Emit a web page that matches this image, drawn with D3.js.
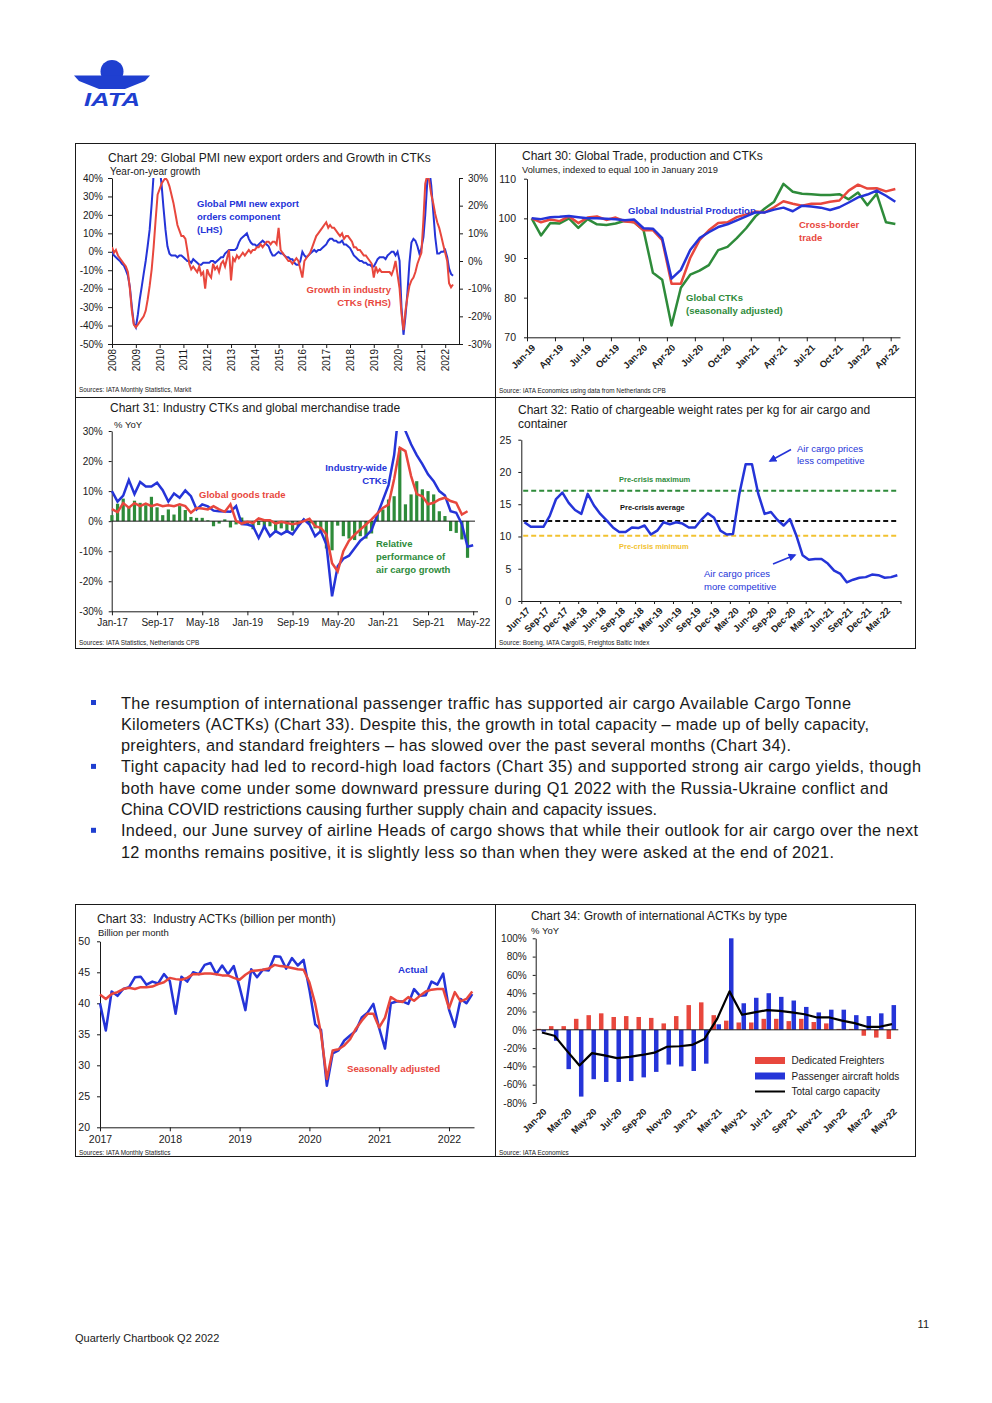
<!DOCTYPE html>
<html>
<head>
<meta charset="utf-8">
<script src="https://cdn.jsdelivr.net/npm/d3@7"></script>
<style>
    body { margin: 0; background: #fff; }
    svg text { font-family: 'Liberation Sans', Arial, sans-serif; white-space: pre; }
</style>
</head>
<body>
<svg id="page" width="992" height="1403"></svg>
<script>
// ---------- data: chart 29 (monthly, Jan 2008 - May 2022)
const pmiExportOrders = [
    0, -2, -3, -4, -5, -6.5, -7.5, -10, -13, -19, -30, -39,
    -41, -34, -26, -19, -12, -5, 3, 12, 26, 42, 50, 50,
    46, 36, 24, 12, 3, -1, -2, -2, -2, -3, -2, -2,
    -3, -4, -5, -5, -6, -4, -5, -6, -7, -7, -6, -6,
    -6, -6, -5, -5, -6, -5, -4, -3, -3, -1, 0, 1,
    1, 1, 1, 2, 5, 7, 8, 9, 10, 7, 5, 4,
    4, 3, 4, 5, 6, 5, 4, 3, 0, -2, -2, -1,
    0, -1, -1, -2, -3, -3, -4, -4, -6, -7, -7, -5,
    0, -2, -3, -2, -1, 0, 1, 0, 1, 1, 2, 3,
    4, 6, 7, 7, 6, 6, 5, 5, 6, 4, 4, 3,
    2, 0, -2, -3, -4, -5, -5, -6, -6, -7, -7, -8,
    -8, -6, -4, -3, -3, -3, -4, -2, -1, 0, 0, -2,
    0, -5, -30, -45, -35, -22, -6, 5, 7, 6, 3, -1,
    2, 8, 20, 38, 45, 36, 22, 8, -1, -1, 0, 0,
    1, -3, -9, -12, -13
]
const ctkGrowth = [
    5, 3, 4, 2, 1, 0, -1, -2, -4, -10, -18, -23,
    -24, -23, -22, -21, -20, -18, -14, -9, -3, 5, 15, 24,
    26, 28, 29, 30, 29, 27, 24, 21, 17, 13, 11, 9,
    9, 8, 4, -1, -3, -2, -3, -4, -2, -5, -4, -10,
    -3, -5, -6, -1, -3, -2, -4, -1, 0, -2, 1, 4,
    -7, 1, 0, 2, 1, 2, 3, 2, 3, 4, 3, 4,
    4, 5, 5, 6, 5, 6, 7, 7, 6, 7, 7, 6,
    12, 4, 3, 2, 1, 0, 0, -1, 0, 1, 0, -3,
    -6, 0, 1, 2, 3, 5, 7, 9, 10, 11, 12, 13,
    14, 12, 13, 12, 12, 11, 10, 9, 10, 8, 9, 9,
    8, 7, 5, 5, 4, 4, 3, 2, 2, 1, 0, -1,
    -6, -2, -4, -3, -4, -4, -4, -4, -4, -5, -3, 0,
    -5, -10, -19, -25, -18, -13, -9, -7, -6, -4, -1, 1,
    3, 15, 28, 31, 29, 24, 21, 17, 14, 12, 9, 6,
    3, 0, -8, -9.5, -8.5
]

// ---------- data: chart 30 (monthly, Jan-19 - Apr-22)
const industrialProduction = [100, 99.8, 100.3, 100.4, 100.6, 100.3, 100, 100, 99.9, 99.8, 99.5, 99.7,
    97.5, 97.4, 95, 84.8, 87, 92, 95, 96.5, 97.8, 98.5, 99.5, 100.5,
    101.5, 101.5, 102.2, 102.7, 101.8, 103.2, 103, 102.7, 102.1, 102.8, 104, 105.3,
    106, 107, 105.7, 104.2]
const crossBorderTrade = [100, 99, 99.7, 99.3, 100.5, 98.8, 100.2, 100.5, 99.6, 100.2, 99.2, 99,
    97, 97, 94.5, 83.5, 83.5, 90, 94.5, 97, 98.8, 99, 100.3, 101,
    101.7, 101.5, 102.8, 104.3, 103.7, 103.2, 103.7, 103.7, 104.2, 104.5, 107, 108.5,
    107.5, 107.6, 106.8, 107.4]
const globalCtksSa = [100, 95.7, 98.8, 98.7, 100, 97.6, 99.8, 98.5, 98.3, 98.7, 99.4, 99,
    97, 86.3, 84.5, 73, 82.5, 85.8, 86.8, 88.2, 92, 92.8, 95, 97.5,
    100.5, 102.5, 104.2, 108.7, 106.7, 106.2, 106.1, 105.9, 105.9, 106.1, 104.8, 106.5,
    103.3, 106.2, 99, 98.6]
const c30Ticks = ['Jan-19', 'Apr-19', 'Jul-19', 'Oct-19', 'Jan-20', 'Apr-20', 'Jul-20', 'Oct-20',
    'Jan-21', 'Apr-21', 'Jul-21', 'Oct-21', 'Jan-22', 'Apr-22']

// ---------- data: chart 31 (monthly, Jan-17 - May-22)
const industryCtks = [10, 6.5, 8.5, 13.7, 9, 13, 11.5, 11.5, 12.8, 10.3, 6.5, 9.2,
    7.8, 10.2, 8.3, 3.9, 5.6, 4.9, 3.5, 3.3, 3.2, 3.1, 5, -1,
    -1.1, -1.7, -5.6, -1.7, -5, -3.3, -4.4, -3.3, -4.4, -1.7, 0.6, -1.1,
    -5, -3.3, -7.8, -25, -15, -12.5, -11.5, -9, -6.5, -5, -3, 2,
    7, 12, 22, 40, 30, 25.6, 22, 19, 15.6, 13.3, 10, 8.5,
    3.3, 2.8, -1, -8.5, -8]
const goodsTrade = [4, 3, 6, 4.5, 6, 5, 5.8, 5, 5.6, 5, 5.3, 5,
    5.6, 5, 2.8, 4.4, 4.2, 3.9, 5, 3.9, 3.1, 5.6, 0, -0.8,
    -0.2, -0.6, 0.9, 0.3, 0.3, -0.8, -0.2, -0.6, -1, -0.6, 0, 0.8,
    -1.7, -2.2, -4.4, -14, -16.7, -10, -6.5, -4.5, -2.8, -1.1, 0.6, 2.5,
    4.4, 5.5, 14, 24.4, 23.3, 15, 9, 8.3, 5.6, 6.1, 7.2, 7.8,
    6.7, 6.1, 2.2, 3.3]
const relativePerformance = [2, 5.8, 7.5, 4.8, 6.8, 6.1, 5.3, 8.1, 4.6, 2, 3.9, 2.2,
    5, 3.7, 1.4, 1.1, 1.1, 0.3, -1.7, -0.8, 0.6, -2.1, -1.1, 1.2,
    -1.3, -2.7, -1.3, -2.2, -1.7, -3.2, -2.4, -3.9, -3.2, -1.7, 0.7, -0.8,
    -2.4, -3.6, -9.1, -9.7, -1.5, -5, -5.8, -6.3, -5, -5.8, -4.1, 2.2,
    3.9, 7.2, 8.3, 24.4, 5.6, 8.9, 13.3, 10.6, 10, 8.9, 3.3, 1.7,
    -3.3, -3.9, -6.1, -12.2]
const c31Ticks = ['Jan-17', 'Sep-17', 'May-18', 'Jan-19', 'Sep-19', 'May-20', 'Jan-21', 'Sep-21', 'May-22']

// ---------- data: chart 32 (monthly, Jun-17 - May-22)
const rateRatio = [12.2, 11.5, 11.5, 11.5, 13.2, 15.8, 16.8, 15.2, 14.1, 13.5,
    16.6, 14.8, 13.5, 12.5, 11.4, 10.7, 10.7, 11.4, 11.3, 11.7,
    10.3, 10.9, 12.2, 11.9, 12.2, 12, 11.4, 11.4, 12.6, 13.6,
    12.9, 10.9, 10.3, 10.4, 16.6, 21.2, 21.2, 16.6, 13.5, 13.8,
    12.6, 11.7, 12.7, 10.2, 7.1, 6.4, 6.5, 6.5, 5.8, 4.7,
    4.2, 2.9, 3.3, 3.6, 3.7, 4.1, 4, 3.6, 3.7, 4]
const preCrisisMax = 17.1
const preCrisisAvg = 12.4
const preCrisisMin = 10.1
const c32Ticks = ['Jun-17', 'Sep-17', 'Dec-17', 'Mar-18', 'Jun-18', 'Sep-18', 'Dec-18', 'Mar-19', 'Jun-19', 'Sep-19',
    'Dec-19', 'Mar-20', 'Jun-20', 'Sep-20', 'Dec-20', 'Mar-21', 'Jun-21', 'Sep-21', 'Dec-21', 'Mar-22']

// ---------- data: chart 33 (monthly, Jan 2017 - May 2022)
const actksActual = [40, 35.6, 41.9, 41.2, 42.3, 42.6, 44.2, 44.3, 43, 43.5, 43.2, 44.7,
    43.6, 38.3, 44.3, 43.5, 45, 44.7, 46.2, 46.5, 44.7, 46.1, 44.7, 46,
    42.6, 38.9, 45.5, 44.2, 45.4, 45.3, 47.6, 47.5, 45.6, 47.3, 46.1, 47,
    42.2, 36.6, 35.7, 26.7, 31.9, 32.4, 34, 34.8, 35.6, 37.7, 38.5, 39.9,
    36, 32.7, 40, 40.3, 40.3, 39.9, 42.3, 41.2, 41.3, 43.5, 43, 44.8,
    39, 36.2, 40.7, 40, 41.5]
const actksSa = [41.4, 40.7, 41.5, 41.8, 42.3, 42.5, 42.3, 42.6, 42.6, 42.7, 43.1, 43.4,
    44.1, 43.9, 43.8, 44.1, 44.7, 44.7, 44.8, 44.8, 44.7, 44.5, 44.5, 44.1,
    43.8, 44.6, 45.2, 45.3, 45.4, 45.6, 46.2, 46, 45.9, 45.7, 45.5, 45.4,
    43.4, 39.9, 35.1, 27.8, 32.4, 32.6, 33.2, 34.2, 35.9, 37.2, 38.3, 38.3,
    36.1, 37.7, 41, 40.4, 40.2, 41, 40.4, 41.2, 41.9, 42.2, 42.3, 42.3,
    39.2, 41.8, 40.3, 40.7, 41.9]
const c33Years = ['2017', '2018', '2019', '2020', '2021', '2022']

// ---------- data: chart 34 (monthly, Jan-20 - May-22)
const c34Months = ['Jan-20', 'Feb-20', 'Mar-20', 'Apr-20', 'May-20', 'Jun-20', 'Jul-20', 'Aug-20', 'Sep-20', 'Oct-20',
    'Nov-20', 'Dec-20', 'Jan-21', 'Feb-21', 'Mar-21', 'Apr-21', 'May-21', 'Jun-21', 'Jul-21', 'Aug-21',
    'Sep-21', 'Oct-21', 'Nov-21', 'Dec-21', 'Jan-22', 'Feb-22', 'Mar-22', 'Apr-22', 'May-22']
const dedicatedFreighters = [1, 4, 4, 12, 16, 18, 14, 15, 14, 13, 7, 15, 27, 30, 16, 10, 8, 8, 12, 12,
    9.5, 12, 8.5, 7, 1, 1, -6.5, -8.5, -10]
const passengerHolds = [-2, -12, -43, -73, -54, -57, -57, -56, -52, -46, -38, -40, -45, -37, 6, 100, 29, 35, 40, 36,
    32, 25, 19, 22, 22, 16, 15, 18, 27]
const totalCapacity = [-3, -6.5, -23, -39, -25.5, -28, -31, -29.5, -27.5, -25, -18.5, -18, -16.5, -10, 11.6, 42, 16.4, 19, 21.5, 20.7,
    19, 17, 13.5, 13.5, 10, 7.3, 3.3, 3.3, 6.2]

// ---------- body text
const bodyLines = [
    'The resumption of international passenger traffic has supported air cargo Available Cargo Tonne',
    'Kilometers (ACTKs) (Chart 33). Despite this, the growth in total capacity \u2013 made up of belly capacity,',
    'preighters, and standard freighters \u2013 has slowed over the past several months (Chart 34).',
    'Tight capacity had led to record-high load factors (Chart 35) and supported strong air cargo yields, though',
    'both have come under some downward pressure during Q1 2022 with the Russia-Ukraine conflict and',
    'China COVID restrictions causing further supply chain and capacity issues.',
    'Indeed, our June survey of airline Heads of cargo shows that while their outlook for air cargo over the next',
    '12 months remains positive, it is slightly less so than when they were asked at the end of 2021.'
]
const bodyWidths = [730, 748, 670, 800, 767, 536, 797, 713]

const BLUE = '#2534d8'
const RED = '#e8473d'
const GREEN = '#2e8b3a'
const YELLOW = '#f2c230'
const INK = '#1a1a1a'
const LOGO = '#1f3fd0'
const SRC = 6.4

const svg = d3.select('#page')

function styleAxis(g, size) {
    g.attr('font-family', "'Liberation Sans', Arial, sans-serif").attr('font-size', size)
    g.selectAll('text').attr('fill', INK)
    g.selectAll('line').attr('stroke', INK)
    g.select('.domain').attr('stroke', INK)
}

function label(x, y, str, opt = {}) {
    return svg.append('text')
        .attr('x', x)
        .attr('y', y)
        .attr('font-size', opt.size || 9.5)
        .attr('font-weight', opt.bold ? 'bold' : 'normal')
        .attr('fill', opt.color || INK)
        .attr('text-anchor', opt.anchor || 'start')
        .text(str)
}

function rotatedLabels(g, pts, y) {
    g.selectAll('text.rot')
        .data(pts)
        .join('text')
        .attr('class', 'rot')
        .attr('transform', d => `translate(${d.x},${y}) rotate(-45)`)
        .attr('text-anchor', 'end')
        .attr('dy', '0.35em')
        .attr('font-size', 9.3)
        .attr('font-weight', 'bold')
        .attr('fill', INK)
        .text(d => d.text)
}

function drawFrames() {
    const f = svg.append('g').attr('fill', 'none').attr('stroke', INK).attr('stroke-width', 1)
    f.append('rect').attr('x', 75.5).attr('y', 143.5).attr('width', 840).attr('height', 505)
    f.append('line').attr('x1', 495.5).attr('x2', 495.5).attr('y1', 143.5).attr('y2', 648.5)
    f.append('line').attr('x1', 75.5).attr('x2', 915.5).attr('y1', 397.5).attr('y2', 397.5)
    f.append('rect').attr('x', 75.5).attr('y', 904.5).attr('width', 840).attr('height', 252)
    f.append('line').attr('x1', 495.5).attr('x2', 495.5).attr('y1', 904.5).attr('y2', 1156.5)
}

function drawLogo() {
    const g = svg.append('g').attr('fill', LOGO)
    g.append('circle').attr('cx', 112).attr('cy', 71.5).attr('r', 11.5)
    g.append('path').attr('d', 'M74,75.5 L150,75.5 L145,81 L125,89 L99,89 L79,81 Z')
    g.append('text')
        .attr('x', 84).attr('y', 106)
        .attr('font-size', 19).attr('font-weight', 'bold').attr('font-style', 'italic')
        .attr('textLength', 56).attr('lengthAdjust', 'spacingAndGlyphs')
        .attr('fill', LOGO)
        .text('IATA')
}

function drawChart29() {
    const g = svg.append('g')
    const start = new Date(2008, 0, 1)
    const dates = pmiExportOrders.map((d, i) => d3.timeMonth.offset(start, i))
    const x = d3.scaleTime().domain([start, new Date(2022, 7, 1)]).range([112, 459])
    const yL = d3.scaleLinear().domain([-50, 40]).range([344, 178])
    const yR = d3.scaleLinear().domain([-30, 30]).range([344, 178])

    g.append('clipPath').attr('id', 'clip29')
        .append('rect').attr('x', 112).attr('y', 178).attr('width', 347).attr('height', 166)

    g.append('g')
        .attr('transform', 'translate(112,0)')
        .call(d3.axisLeft(yL).tickValues(d3.range(-50, 41, 10)).tickFormat(d => d + '%').tickSize(4).tickSizeOuter(0).tickPadding(5))
        .call(styleAxis, 10)
    g.append('g')
        .attr('transform', 'translate(459,0)')
        .call(d3.axisRight(yR).tickValues(d3.range(-30, 31, 10)).tickFormat(d => d + '%').tickSize(4).tickSizeOuter(0).tickPadding(5))
        .call(styleAxis, 10)
    g.append('g')
        .attr('transform', 'translate(0,344)')
        .call(d3.axisBottom(x).ticks(d3.timeYear.every(1)).tickFormat(d3.timeFormat('%Y')).tickSize(4).tickSizeOuter(0))
        .call(styleAxis, 10)
        .call(a => a.selectAll('text')
            .attr('transform', 'rotate(-90)')
            .attr('text-anchor', 'end')
            .attr('x', -5)
            .attr('y', 0)
            .attr('dy', '0.35em'))

    const lineL = d3.line().x((d, i) => x(dates[i])).y(d => yL(d))
    const lineR = d3.line().x((d, i) => x(dates[i])).y(d => yR(d))
    g.append('path').datum(pmiExportOrders).attr('d', lineL)
        .attr('fill', 'none').attr('stroke', BLUE).attr('stroke-width', 2).attr('clip-path', 'url(#clip29)')
    g.append('path').datum(ctkGrowth).attr('d', lineR)
        .attr('fill', 'none').attr('stroke', RED).attr('stroke-width', 2).attr('clip-path', 'url(#clip29)')

    label(108, 161.5, 'Chart 29: Global PMI new export orders and Growth in CTKs', { size: 12 })
    label(110, 174.5, 'Year-on-year growth', { size: 10 })
    label(197, 207, 'Global PMI new export', { bold: true, color: BLUE })
    label(197, 220, 'orders component', { bold: true, color: BLUE })
    label(197, 233, '(LHS)', { bold: true, color: BLUE })
    label(391, 293, 'Growth in industry', { bold: true, color: RED, anchor: 'end' })
    label(391, 306, 'CTKs (RHS)', { bold: true, color: RED, anchor: 'end' })
    label(79, 392, 'Sources: IATA Monthly Statistics, Markit', { size: SRC })
}

function drawChart30() {
    const g = svg.append('g')
    const x = d3.scaleLinear().domain([-0.5, 39.5]).range([527, 900])
    const y = d3.scaleLinear().domain([70, 110]).range([337.3, 178.7])

    g.append('g')
        .attr('transform', 'translate(527,0)')
        .call(d3.axisLeft(y).tickValues([70, 80, 90, 100, 110]).tickSize(3).tickSizeOuter(0).tickPadding(8))
        .call(styleAxis, 10.5)
    g.append('g')
        .attr('transform', 'translate(0,337.3)')
        .call(d3.axisBottom(x).tickValues(d3.range(-0.5, 40, 3)).tickFormat('').tickSize(4).tickSizeOuter(0))
        .call(styleAxis, 9)
    rotatedLabels(g, c30Ticks.map((t, k) => ({ x: x(k * 3) + 2, text: t })), 346)

    const line = d3.line().x((d, i) => x(i)).y(d => y(d))
    const series = [[globalCtksSa, GREEN], [crossBorderTrade, RED], [industrialProduction, BLUE]]
    series.forEach(([data, color]) => {
        g.append('path').datum(data).attr('d', line)
            .attr('fill', 'none').attr('stroke', color).attr('stroke-width', 2.5).attr('stroke-linejoin', 'round')
    })

    label(522, 159.5, 'Chart 30: Global Trade, production and CTKs', { size: 12 })
    label(522, 173, 'Volumes, indexed to equal 100 in January 2019', { size: 9.3 })
    label(628, 214, 'Global Industrial Production', { bold: true, color: BLUE })
    label(799, 228, 'Cross-border', { bold: true, color: RED })
    label(799, 241, 'trade', { bold: true, color: RED })
    label(686, 301, 'Global CTKs', { bold: true, color: GREEN })
    label(686, 314, '(seasonally adjusted)', { bold: true, color: GREEN })
    label(499, 393, 'Source: IATA Economics using data from Netherlands CPB', { size: SRC })
}

function drawChart31() {
    const g = svg.append('g')
    const x = d3.scaleLinear().domain([-0.25, 64.5]).range([110.5, 476])
    const y = d3.scaleLinear().domain([-30, 30]).range([611.3, 431])

    g.append('clipPath').attr('id', 'clip31')
        .append('rect').attr('x', 111).attr('y', 431).attr('width', 370).attr('height', 181)

    g.append('g')
        .attr('transform', 'translate(111.7,0)')
        .call(d3.axisLeft(y).tickValues(d3.range(-30, 31, 10)).tickFormat(d => d + '%').tickSize(3).tickSizeOuter(0).tickPadding(6))
        .call(styleAxis, 10)
    g.append('g')
        .attr('transform', 'translate(0,611.3)')
        .call(d3.axisBottom(x).tickValues(d3.range(0, 65, 8)).tickFormat((d, k) => c31Ticks[k]).tickSize(4).tickSizeOuter(0).tickPadding(4))
        .call(styleAxis, 10)
        .call(a => a.select('.domain').attr('d', 'M111.7,0.5H478'))

    g.selectAll('rect.bar')
        .data(relativePerformance)
        .join('rect')
        .attr('class', 'bar')
        .attr('x', (d, i) => x(i) - 1.6)
        .attr('width', 3.2)
        .attr('y', d => y(Math.max(0, d)))
        .attr('height', d => Math.abs(y(d) - y(0)))
        .attr('fill', GREEN)
    g.append('line').attr('x1', 111.7).attr('x2', 475).attr('y1', y(0)).attr('y2', y(0)).attr('stroke', INK)

    const line = d3.line().x((d, i) => x(i)).y(d => y(d))
    g.append('path').datum(industryCtks).attr('d', line)
        .attr('fill', 'none').attr('stroke', BLUE).attr('stroke-width', 2.5).attr('clip-path', 'url(#clip31)')
    g.append('path').datum(goodsTrade).attr('d', line)
        .attr('fill', 'none').attr('stroke', RED).attr('stroke-width', 2.5).attr('clip-path', 'url(#clip31)')

    label(110, 411.5, 'Chart 31: Industry CTKs and global merchandise trade', { size: 12 })
    label(114, 428, '% YoY', { size: 9.5 })
    label(199, 498, 'Global goods trade', { bold: true, color: RED })
    label(387, 471, 'Industry-wide', { bold: true, color: BLUE, anchor: 'end' })
    label(387, 484, 'CTKs', { bold: true, color: BLUE, anchor: 'end' })
    label(376, 547, 'Relative', { bold: true, color: GREEN })
    label(376, 560, 'performance of', { bold: true, color: GREEN })
    label(376, 573, 'air cargo growth', { bold: true, color: GREEN })
    label(79, 645, 'Sources: IATA Statistics, Netherlands CPB', { size: SRC })
}

function drawChart32() {
    const g = svg.append('g')
    const x = d3.scaleLinear().domain([-0.5, 59.5]).range([521.3, 900.5])
    const y = d3.scaleLinear().domain([0, 25]).range([601, 439.7])

    g.append('g')
        .attr('transform', 'translate(521.3,0)')
        .call(d3.axisLeft(y).tickValues(d3.range(0, 26, 5)).tickSize(3).tickSizeOuter(0).tickPadding(7))
        .call(styleAxis, 10.5)
    g.append('g')
        .attr('transform', 'translate(0,601)')
        .call(d3.axisBottom(x).tickValues(d3.range(-0.5, 60, 3)).tickFormat('').tickSize(3).tickSizeOuter(0))
        .call(styleAxis, 9)
    rotatedLabels(g, c32Ticks.map((t, k) => ({ x: x(k * 3) + 4, text: t })), 609)

    const refs = [[preCrisisMax, GREEN], [preCrisisAvg, '#111'], [preCrisisMin, YELLOW]]
    refs.forEach(([v, color]) => {
        g.append('line').attr('x1', x(-0.2)).attr('x2', x(59.2)).attr('y1', y(v)).attr('y2', y(v))
            .attr('stroke', color).attr('stroke-width', 2).attr('stroke-dasharray', '5,3')
    })

    g.append('path').datum(rateRatio)
        .attr('d', d3.line().x((d, i) => x(i)).y(d => y(d)))
        .attr('fill', 'none').attr('stroke', BLUE).attr('stroke-width', 2.5).attr('stroke-linejoin', 'round')

    const defs = svg.append('defs')
    defs.append('marker').attr('id', 'arrowBlue').attr('viewBox', '0 0 10 10')
        .attr('refX', 8).attr('refY', 5).attr('markerWidth', 5).attr('markerHeight', 5).attr('orient', 'auto')
        .append('path').attr('d', 'M0,0 L10,5 L0,10 Z').attr('fill', BLUE)
    g.append('line').attr('x1', 791).attr('y1', 449.5).attr('x2', 770).attr('y2', 461)
        .attr('stroke', BLUE).attr('stroke-width', 1.6).attr('marker-end', 'url(#arrowBlue)')
    g.append('line').attr('x1', 773).attr('y1', 564).attr('x2', 795).attr('y2', 555)
        .attr('stroke', BLUE).attr('stroke-width', 1.6).attr('marker-end', 'url(#arrowBlue)')

    label(518, 414, 'Chart 32: Ratio of chargeable weight rates per kg for air cargo and', { size: 12 })
    label(518, 428, 'container', { size: 12 })
    label(619, 481.5, 'Pre-crisis maximum', { bold: true, color: GREEN, size: 7.5 })
    label(620, 510, 'Pre-crisis average', { bold: true, color: '#111', size: 7.5 })
    label(619, 549, 'Pre-crisis minimum', { bold: true, color: YELLOW, size: 7.5 })
    label(797, 451.5, 'Air cargo prices', { color: BLUE })
    label(797, 464, 'less competitive', { color: BLUE })
    label(704, 577, 'Air cargo prices', { color: BLUE })
    label(704, 590, 'more competitive', { color: BLUE })
    label(499, 645, 'Source: Boeing, IATA CargoIS, Freightos Baltic Index', { size: SRC })
}

function drawChart33() {
    const g = svg.append('g')
    const x = d3.scaleLinear().domain([0, 64.3]).range([100, 474])
    const y = d3.scaleLinear().domain([20, 50]).range([1127.3, 941.3])

    g.append('g')
        .attr('transform', 'translate(100,0)')
        .call(d3.axisLeft(y).tickValues(d3.range(20, 51, 5)).tickSize(3).tickSizeOuter(0).tickPadding(7))
        .call(styleAxis, 10.5)
    g.append('g')
        .attr('transform', 'translate(0,1127.3)')
        .call(d3.axisBottom(x).tickValues(d3.range(0, 61, 12)).tickFormat((d, k) => c33Years[k]).tickSize(4).tickSizeOuter(0).tickPadding(4))
        .call(styleAxis, 10.5)

    const line = d3.line().x((d, i) => x(i)).y(d => y(d))
    g.append('path').datum(actksActual).attr('d', line)
        .attr('fill', 'none').attr('stroke', BLUE).attr('stroke-width', 2.5).attr('stroke-linejoin', 'round')
    g.append('path').datum(actksSa).attr('d', line)
        .attr('fill', 'none').attr('stroke', RED).attr('stroke-width', 2.5).attr('stroke-linejoin', 'round')

    label(97, 923, 'Chart 33:  Industry ACTKs (billion per month)', { size: 12 })
    label(98, 936, 'Billion per month', { size: 9.5 })
    label(398, 973, 'Actual', { bold: true, color: BLUE, size: 9.7 })
    label(347, 1072, 'Seasonally adjusted', { bold: true, color: RED, size: 9.7 })
    label(79, 1154.5, 'Sources: IATA Monthly Statistics', { size: SRC })
}

function drawChart34() {
    const g = svg.append('g')
    const x = d3.scaleBand().domain(d3.range(c34Months.length)).range([535.7, 898.3])
    const y = d3.scaleLinear().domain([-80, 100]).range([1103, 938.3])
    const bw = x.bandwidth()

    g.append('g')
        .attr('transform', 'translate(535.7,0)')
        .call(d3.axisLeft(y).tickValues(d3.range(-80, 101, 20)).tickFormat(d => d + '%').tickSize(3).tickSizeOuter(0).tickPadding(6))
        .call(styleAxis, 10)

    g.selectAll('rect.fr')
        .data(dedicatedFreighters)
        .join('rect')
        .attr('class', 'fr')
        .attr('x', (d, i) => x(i) + bw / 2 - 5.5)
        .attr('width', 4.5)
        .attr('y', d => y(Math.max(0, d)))
        .attr('height', d => Math.abs(y(d) - y(0)))
        .attr('fill', RED)
    g.selectAll('rect.ph')
        .data(passengerHolds)
        .join('rect')
        .attr('class', 'ph')
        .attr('x', (d, i) => x(i) + bw / 2 - 0.5)
        .attr('width', 4.5)
        .attr('y', d => y(Math.max(0, d)))
        .attr('height', d => Math.abs(y(d) - y(0)))
        .attr('fill', BLUE)
    g.append('line').attr('x1', 535.7).attr('x2', 898.3).attr('y1', y(0)).attr('y2', y(0)).attr('stroke', INK)
    g.append('path').datum(totalCapacity)
        .attr('d', d3.line().x((d, i) => x(i) + bw / 2).y(d => y(d)))
        .attr('fill', 'none').attr('stroke', '#000').attr('stroke-width', 2.2).attr('stroke-linejoin', 'round')

    const ticks = c34Months.map((t, i) => ({ x: x(i) + bw / 2 + 3, text: t })).filter((d, i) => i % 2 === 0)
    rotatedLabels(g, ticks, 1110)

    const legend = [['Dedicated Freighters', RED, 'rect'], ['Passenger aircraft holds', BLUE, 'rect'], ['Total cargo capacity', '#000', 'line']]
    legend.forEach(([name, color, kind], k) => {
        const ly = 1060.5 + k * 15.5
        if (kind === 'rect') {
            g.append('rect').attr('x', 755).attr('y', ly - 3.5).attr('width', 30).attr('height', 7).attr('fill', color)
        } else {
            g.append('line').attr('x1', 755).attr('x2', 785).attr('y1', ly).attr('y2', ly).attr('stroke', color).attr('stroke-width', 2)
        }
        label(791.5, ly + 3.5, name, { size: 10 })
    })

    label(531, 919.5, 'Chart 34: Growth of international ACTKs by type', { size: 12 })
    label(531, 934, '% YoY', { size: 9.5 })
    label(499, 1154.5, 'Source: IATA Economics', { size: SRC })
}

function drawBody() {
    const firstBaseline = 708.5
    const lineStep = 21.3
    const bulletRows = [0, 3, 6]
    bodyLines.forEach((t, i) => {
        svg.append('text')
            .attr('x', 121)
            .attr('y', firstBaseline + i * lineStep)
            .attr('font-size', 16.3)
            .attr('fill', INK)
            .attr('textLength', bodyWidths[i])
            .attr('lengthAdjust', 'spacing')
            .text(t)
    })
    bulletRows.forEach(r => {
        svg.append('rect')
            .attr('x', 91).attr('y', firstBaseline + r * lineStep - 8.5)
            .attr('width', 5).attr('height', 5).attr('fill', LOGO)
    })
    label(75, 1342, 'Quarterly Chartbook Q2 2022', { size: 11 })
    label(929, 1328, '11', { size: 11, anchor: 'end' })
}

drawFrames()
drawLogo()
drawChart29()
drawChart30()
drawChart31()
drawChart32()
drawChart33()
drawChart34()
drawBody()
</script>
</body>
</html>
